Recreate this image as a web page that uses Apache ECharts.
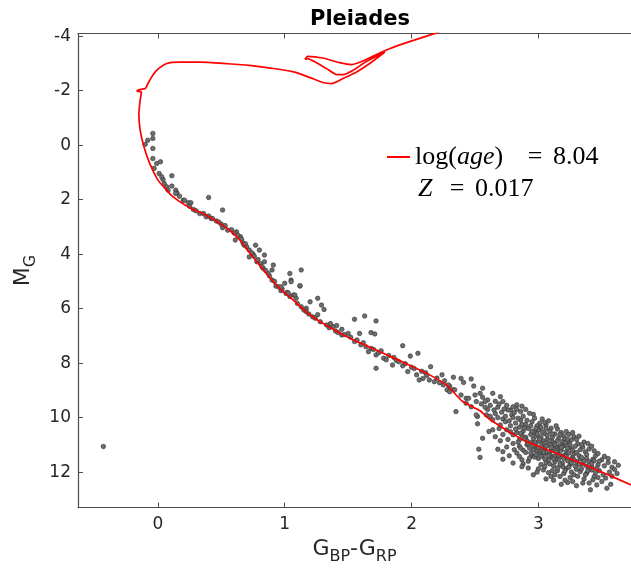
<!DOCTYPE html>
<html>
<head>
<meta charset="utf-8">
<script src="https://cdn.jsdelivr.net/npm/echarts@6/dist/echarts.min.js"></script>
<style>
html,body{margin:0;padding:0;background:#fff;}
#c{width:631px;height:574px;}
</style>
</head>
<body>
<div id="c"></div>
<script>
// ---- Data ----
const titleText = 'Pleiades';
const xTicks = [0, 1, 2, 3];
const yTicks = [-4, -2, 0, 2, 4, 6, 8, 10, 12];
const legendAge = '8.04';
const legendZ = '0.017';

// isochrone (G_BP-G_RP, M_G), traced in order from the faint main sequence up
const isoX = [3.73,3.49,3.27,3.01,2.88,2.62,2.54,2.40,2.28,2.15,2.01,1.75,1.49,1.28,1.18,1.07,0.96,0.88,0.80,0.72,0.65,0.57,0.49,0.36,0.25,0.12,0.04,0.00,-0.065,-0.11,-0.14,-0.15,-0.14,-0.13,-0.165,-0.15,-0.10,-0.085,-0.05,-0.01,0.07,0.17,0.33,0.55,0.72,0.90,1.07,1.20,1.30,1.37,1.46,1.57,1.67,1.79,1.64,1.54,1.46,1.41,1.33,1.25,1.18,1.16,1.18,1.30,1.43,1.53,1.60,1.72,1.83,1.99,2.22];
const isoY = [12.47,11.98,11.55,11.07,10.82,10.08,9.75,9.40,8.82,8.45,8.13,7.58,7.03,6.48,6.17,5.70,5.26,4.85,4.40,3.93,3.50,3.14,2.88,2.52,2.30,1.90,1.50,1.28,0.67,0.06,-0.55,-1.16,-1.65,-1.95,-1.99,-2.03,-2.08,-2.20,-2.50,-2.75,-3.00,-3.05,-3.05,-2.99,-2.93,-2.82,-2.69,-2.48,-2.30,-2.26,-2.45,-2.70,-3.00,-3.42,-3.06,-2.75,-2.59,-2.59,-2.81,-3.03,-3.18,-3.16,-3.26,-3.20,-3.03,-2.96,-3.06,-3.32,-3.55,-3.81,-4.16];

// Pleiades members: [G_BP-G_RP, M_G]
const starsUpper = [
[-0.04,-0.43],[-0.08,-0.18],[-0.04,-0.25],[-0.10,-0.03],[-0.04,0.12],[-0.04,0.49],[-0.01,0.67],[-0.03,0.85],[0.02,0.61],[0.01,1.04],
[0.04,1.26],[0.11,1.12],[0.05,1.41],[0.07,1.53],[0.11,1.50],[0.14,1.65],[0.15,1.75],[0.17,1.87],[0.20,2.02],[0.24,2.11],
[0.26,2.11],[0.40,1.92],[0.51,2.38],[0.28,2.36],[0.33,2.51],[0.38,2.63],[0.42,2.69],[0.08,1.65],[0.03,1.16],[0.14,1.77],
[0.21,2.02],[0.25,2.24],[0.30,2.41],[0.36,2.51],[0.40,2.60],[0.43,2.69],[0.50,2.90],[0.51,3.03],[0.55,3.12],[0.62,3.18],
[0.61,3.48],[0.65,3.36],[0.67,3.58],[0.70,3.73],[0.72,3.85],[0.77,3.67],[0.80,3.85],[0.84,4.03],[0.84,4.28],[0.78,4.28],
[0.83,4.52],[0.91,4.40],[0.90,4.58],[0.87,4.71],[0.90,4.95],[0.93,5.17],[1.00,5.07],[1.04,4.71],[1.05,4.95],[1.13,4.58],
[1.12,5.17],[1.01,5.44],[1.07,5.50],[1.09,5.62],[1.10,5.81],[1.17,5.99],[0.97,5.34],[0.72,4.10],[0.75,4.00],[0.68,3.67],
[0.46,2.78],[0.48,2.82],[0.53,2.95],[0.58,3.10],[0.60,3.22],[0.63,3.30],[0.66,3.45],[0.69,3.62],[0.74,3.95],[0.76,4.08],
[0.79,4.20],[0.81,4.35],[0.82,4.45],[0.85,4.60],[0.88,4.80],[0.92,5.00],[0.95,5.20],[0.98,5.28],[1.02,5.40],[1.04,5.55],
[-0.43,11.06]
];
const starsMiddle = [
[1.05,5.01],[1.12,5.16],[0.97,5.20],[1.03,5.44],[1.08,5.50],[1.20,5.75],[1.26,5.62],[1.29,5.87],[1.31,6.03],[1.13,5.93],
[1.17,6.11],[1.22,6.30],[1.28,6.48],[1.33,6.60],[1.38,6.66],[1.45,6.76],[1.50,6.91],[1.45,6.97],[1.55,7.21],[1.59,6.91],
[1.55,6.39],[1.63,6.27],[1.68,6.88],[1.71,6.93],[1.72,6.45],[1.60,7.33],[1.66,7.58],[1.68,7.46],[1.72,7.70],[1.72,8.19],
[1.78,7.82],[1.80,7.88],[1.86,7.79],[1.85,8.07],[1.93,7.36],[1.99,7.74],[2.05,7.64],[1.93,8.10],[1.97,8.31],[2.04,8.43],
[2.09,8.56],[2.15,8.13],[2.14,8.62],[2.18,8.68],[2.24,8.43],[2.25,8.80],[2.33,8.52],[2.39,8.56],[2.47,8.58],[2.33,8.98],
[2.39,9.17],[2.43,9.29],[2.50,9.17],[2.49,8.84],[2.35,9.78],[2.52,9.96],[2.51,9.41],[2.28,8.98],[2.06,8.62],
[1.35,6.70],[1.40,6.82],[1.42,6.88],[1.47,6.95],[1.52,7.05],[1.57,7.15],[1.62,7.25],[1.64,7.40],[1.70,7.50],[1.74,7.62],
[1.76,7.55],[1.82,7.72],[1.88,7.90],[1.90,7.95],[1.95,8.02],[2.00,8.15],[2.02,8.20],[2.08,8.30],[2.11,8.35],[2.12,8.45],
[2.20,8.55],[2.22,8.72],[2.26,8.65],[2.30,8.85],[1.15,6.05],[1.19,6.20],[1.24,6.35],[1.26,6.22],[1.36,6.55],[1.41,6.62],
[2.41,8.71],[2.29,8.80],[2.34,8.98],[2.30,9.05],[2.45,9.29],[2.47,9.60],[2.43,9.47]
];
const starsFaint = [
[2.56,9.25],[2.60,9.35],[2.62,9.55],[2.66,9.40],[2.64,9.11],[2.70,9.23],[2.72,9.41],[2.58,9.41],[2.54,9.11],[2.56,8.92],
[2.68,9.62],[2.75,9.55],[2.78,9.72],[2.76,9.72],[2.83,9.53],[2.83,9.69],[2.71,9.80],[2.60,9.70],[2.66,9.85],
[2.79,9.90],[2.93,9.84],[2.96,9.88],[2.97,10.02],[2.51,9.90],[2.52,10.23],[2.64,10.08],[2.59,9.90],[2.70,10.27],[2.72,10.05],
[2.74,10.15],[2.80,10.00],[2.82,10.20],[2.86,10.10],[2.88,9.95],[2.90,10.25],[2.85,10.35],[2.78,10.30],[2.68,10.00],[3.01,10.21],
[3.06,10.27],[2.95,10.15],[2.99,10.30],[3.03,10.05],[3.08,10.12],
[3.10,10.39],[3.13,10.60],[3.18,10.55],[3.22,10.51],[2.75,10.45],[2.80,10.63],[2.85,10.82],[2.61,10.51],[2.64,10.45],[2.56,10.76],
[2.88,10.50],[2.92,10.40],[2.94,10.62],[2.97,10.55],[3.00,10.45],[3.02,10.70],[3.05,10.58],[3.07,10.80],[3.11,10.72],[3.15,10.42],
[3.16,10.75],[3.20,10.68],[3.24,10.62],[3.26,10.82],[3.28,10.70],[2.90,10.72],[2.83,10.55],[2.96,10.78],[3.09,10.50],[3.00,10.88],
[2.87,10.65],[3.19,10.88],
[2.91,11.00],[2.96,11.18],[3.01,11.31],[3.31,10.96],[3.33,11.18],[2.68,11.16],[2.72,11.25],[2.53,11.16],[2.94,10.92],[2.98,11.05],
[3.03,10.98],[3.05,11.12],[3.08,11.00],[3.10,11.22],[3.12,10.95],[3.14,11.08],[3.17,11.15],[3.20,11.02],[3.22,11.25],[3.25,11.10],
[3.27,11.20],[3.29,11.05],[3.35,11.08],[3.37,11.25],[3.40,11.15],[2.85,11.05],[2.88,11.20],[2.80,10.95],[3.06,11.28],[3.15,11.30],
[3.24,10.95],[2.99,11.22],[3.12,11.15],[3.18,11.20],[3.36,10.90],[2.93,11.12],
[3.10,11.43],[3.21,11.37],[3.27,11.45],[3.16,11.55],[3.30,11.61],[3.35,11.70],[3.38,11.49],[3.43,11.53],[3.47,11.73],[3.52,11.77],
[3.58,11.82],[3.06,11.65],[2.85,11.43],[2.87,11.55],[2.88,11.70],[2.87,11.80],[2.72,11.53],[2.80,11.67],[2.54,11.46],[2.95,11.40],
[3.00,11.50],[3.04,11.35],[3.08,11.55],[3.13,11.62],[3.18,11.40],[3.23,11.58],[3.25,11.72],[3.32,11.40],[3.40,11.62],[3.45,11.40],
[3.50,11.55],[3.55,11.65],[3.02,11.72],[3.12,11.78],[3.19,11.68],[2.92,11.60],[3.28,11.33],[3.42,11.80],[3.48,11.60],[3.14,11.48],
[3.00,11.88],[3.04,11.92],[3.22,11.86],[3.33,11.98],[3.42,11.92],[3.44,12.16],[3.38,12.04],[3.17,12.16],[3.10,12.16],[3.27,12.35],
[3.23,12.38],[3.51,12.10],[3.46,12.47],[3.54,12.59],[3.41,12.65],[2.96,12.10],[3.15,11.95],[3.20,12.05],[3.28,12.10],[3.30,11.90],
[3.36,12.25],[3.08,12.02],[3.25,12.20],[3.12,12.30],[3.48,11.95],[3.56,12.00],[3.60,11.90],[3.35,12.40],[3.18,12.45],
[2.98,10.68],[3.04,10.85],[3.11,10.88],[2.91,10.85],[3.06,10.40],[3.14,10.30],[2.89,10.38],[3.21,10.78],[3.09,11.35],[3.02,11.20],
[2.94,11.30],[3.17,11.02],[3.23,11.12],[3.13,11.40],[3.26,11.52],[2.97,11.45],[3.05,11.52],[3.19,11.80],[3.33,11.52],[3.38,11.78],
[2.82,10.42],[2.86,10.58],[2.89,10.78],[2.92,10.95],[2.95,10.50],[2.97,10.92],[2.99,10.60],[3.01,10.79],[3.03,10.52],[3.05,10.95],
[3.07,10.66],[3.09,10.85],[3.11,10.60],[3.13,10.98],[3.15,10.85],[3.17,10.62],[3.19,11.06],[3.21,10.92],[3.23,10.80],[3.25,11.00],
[2.84,10.90],[2.86,11.12],[2.90,11.28],[2.93,11.48],[2.96,11.02],[2.98,11.35],[3.00,11.10],[3.02,11.42],[3.04,11.26],[3.06,11.05],
[3.08,11.40],[3.10,11.10],[3.12,11.52],[3.14,11.25],[3.16,11.38],[3.18,11.10],[3.20,11.50],[3.22,11.42],[3.24,11.30],[3.26,11.65],
[3.28,11.55],[3.30,11.28],[3.32,11.72],[3.34,11.46],[3.36,11.60],[3.38,11.35],[3.40,11.85],[3.42,11.68],[3.44,11.58],[3.46,11.85],
[3.05,11.80],[3.09,11.70],[3.11,11.95],[3.15,11.85],[3.17,11.72],[3.21,11.95],[3.24,11.82],[3.26,12.00],[3.29,11.78],[3.31,12.15],
[3.34,11.88],[3.37,12.10],[3.39,11.95],[3.43,12.28],[3.45,12.02],[3.47,12.20],[3.50,12.35],[3.53,12.22],[3.57,12.45],[3.62,12.05],
[2.74,9.95],[2.77,10.12],[2.81,9.82],[2.84,10.02],[2.87,10.25],[2.91,10.10],[2.94,10.30],[2.98,10.40],[3.02,10.35],[3.05,10.18],
[2.69,10.40],[2.72,10.62],[2.76,10.80],[2.78,10.52],[2.81,11.18],[2.83,11.30],[2.77,11.40],[2.75,11.08],[2.70,10.85],[2.66,10.70],
[2.62,9.95],[2.58,9.62],[2.55,9.50],[2.65,9.72],[2.69,9.50],[2.73,9.68],[2.80,9.60],[2.86,9.78],[2.90,9.70],[2.87,9.58],
[3.27,10.55],[3.30,10.80],[3.32,10.68],[3.34,11.00],[3.39,10.95],[3.42,11.05],[3.44,11.22],[3.47,11.32],[3.52,11.42],[3.55,11.50],
[3.60,11.62],[3.63,11.75],[3.58,12.15],[3.40,12.40],[3.30,12.50],[3.21,12.30],[3.13,12.10],[3.06,12.25],[2.99,12.00],[2.92,11.85]
];

const isoData = isoX.map((x, i) => [x, isoY[i]]);
const starData = starsUpper.concat(starsMiddle, starsFaint);

const AXIS_COL = '#4d4d4d';
const LBL_COL = '#262626';
const FONT = 'DejaVu Sans';
const SERIF = 'Liberation Serif';

const chart = echarts.init(document.getElementById('c'), null, {renderer: 'canvas'});
chart.setOption({
  animation: false,
  backgroundColor: '#ffffff',
  title: {
    text: titleText,
    left: 355,
    textAlign: 'center',
    top: 4,
    textStyle: {fontFamily: FONT, fontWeight: 'bold', fontSize: 21, color: '#000'}
  },
  grid: {left: 78, top: 33.5, right: 0, bottom: 66.5, containLabel: false},
  xAxis: [{
    type: 'value', position: 'bottom', min: -0.63, max: 3.73,
    axisLine: {show: true, onZero: false, lineStyle: {color: AXIS_COL, width: 1.2}},
    axisTick: {show: true, inside: true, length: 5, customValues: xTicks, lineStyle: {color: AXIS_COL}},
    axisLabel: {show: true, customValues: xTicks, fontFamily: FONT, fontSize: 17, color: LBL_COL, margin: 9},
    splitLine: {show: false},
    name: '{m|G}{s|BP}{m|-G}{s|RP}',
    nameLocation: 'middle', nameGap: 26,
    nameTextStyle: {rich: {
      m: {fontFamily: FONT, fontSize: 22, color: LBL_COL},
      s: {fontFamily: FONT, fontSize: 16, color: LBL_COL, padding: [15, 0, 0, 0]}
    }}
  }, {
    type: 'value', position: 'top', min: -0.63, max: 3.73,
    axisLine: {show: true, onZero: false, lineStyle: {color: AXIS_COL, width: 1.2}},
    axisTick: {show: true, inside: true, length: 5, customValues: xTicks, lineStyle: {color: AXIS_COL}},
    axisLabel: {show: false},
    splitLine: {show: false}
  }],
  yAxis: [{
    type: 'value', position: 'left', inverse: true, min: -4.1, max: 13.3,
    axisLine: {show: true, onZero: false, lineStyle: {color: AXIS_COL, width: 1.2}},
    axisTick: {show: true, inside: true, length: 5, customValues: yTicks, lineStyle: {color: AXIS_COL}},
    axisLabel: {show: true, customValues: yTicks, fontFamily: FONT, fontSize: 17, color: LBL_COL, margin: 7},
    splitLine: {show: false},
    name: '{m|M}{s|G}',
    nameLocation: 'middle', nameGap: 36, nameRotate: 90,
    nameTextStyle: {rich: {
      m: {fontFamily: FONT, fontSize: 22, color: LBL_COL},
      s: {fontFamily: FONT, fontSize: 16, color: LBL_COL, padding: [15, 0, 0, 0]}
    }}
  }],
  legend: {
    show: true,
    data: ['isochrone'],
    left: 387, top: 144,
    padding: 0,
    icon: 'rect', itemWidth: 23, itemHeight: 2,
    itemGap: 0,
    formatter: () => '{a|log(}{i|age}{a|)}{sp|}{e|=}{a|' + legendAge + '}',
    textStyle: {
      rich: {
        a: {fontFamily: SERIF, fontSize: 26, color: '#000', lineHeight: 30},
        i: {fontFamily: SERIF, fontStyle: 'italic', fontSize: 26, color: '#000', lineHeight: 30},
        sp: {width: 14, lineHeight: 30},
        e: {fontFamily: SERIF, fontSize: 26, color: '#000', lineHeight: 30, width: 36, align: 'center'}
      }
    }
  },
  graphic: [{
    type: 'text', left: 418, top: 176,
    style: {
      text: '{i|Z}{e|=}{a|' + legendZ + '}',
      rich: {
        a: {fontFamily: SERIF, fontSize: 26, fill: '#000'},
        i: {fontFamily: SERIF, fontStyle: 'italic', fontSize: 26, fill: '#000', width: 21},
        e: {fontFamily: SERIF, fontSize: 26, fill: '#000', width: 36, align: 'center'}
      }
    }
  }],
  series: [{
    type: 'scatter',
    name: 'members',
    data: starData,
    symbol: 'circle', symbolSize: 4.5,
    itemStyle: {color: '#6e6e6e', borderColor: '#2e2e2e', borderWidth: 0.6, opacity: 1},
    z: 2
  }, {
    type: 'line',
    name: 'isochrone',
    data: isoData,
    showSymbol: false, symbol: 'none',
    smooth: 0.2,
    clip: true,
    color: '#ff0000',
    itemStyle: {color: '#ff0000'},
    lineStyle: {color: '#ff0000', width: 1.7},
    z: 3
  }]
});
</script>
</body>
</html>
